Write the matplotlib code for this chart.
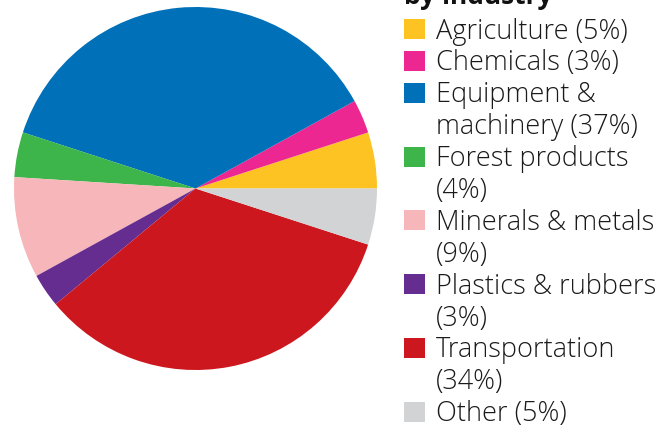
import matplotlib
matplotlib.use("Agg")
import matplotlib.pyplot as plt
from matplotlib.patches import Rectangle

# share of sales by industry (%), counter-clockwise from 3 o'clock
industries = [
    "Agriculture",
    "Chemicals",
    "Equipment &\nmachinery",
    "Forest products\n",
    "Minerals & metals\n",
    "Plastics & rubbers\n",
    "Transportation\n",
    "Other",
]
shares = [5, 3, 37, 4, 9, 3, 34, 5]
colors = ["#FDC323", "#EC2792", "#0070B8", "#3DB54A",
          "#F7B6BA", "#662D91", "#CC171E", "#D1D3D4"]
title = "by industry"

W, H, DPI = 672, 427, 100
fig = plt.figure(figsize=(W / DPI, H / DPI), dpi=DPI)

# pie
cx, cy, r = 195.5, 189.5, 181.5
ax = fig.add_axes([(cx - r) / W, (H - cy - r) / H, 2 * r / W, 2 * r / H])
ax.pie(shares, colors=colors, startangle=0, counterclock=True,
       radius=1.0, wedgeprops=dict(linewidth=0))
ax.set_xlim(-1, 1)
ax.set_ylim(-1, 1)
ax.set_aspect("equal")
ax.axis("off")

# title, cut off at the top like the source
fig.text(404 / W, 1 - 3.5 / H, title, fontsize=19, fontweight="bold",
         family="Open Sans", ha="left", va="baseline", color="#111111")

# legend drawn by hand
row_h = 31.9
y0 = 30.0
row = 0
for name, val, col in zip(industries, shares, colors):
    if name.endswith("\n"):
        label = f"{name}({val}%)"
    else:
        label = f"{name} ({val}%)"
    yc = y0 + row * row_h
    fig.patches.append(Rectangle((404 / W, 1 - (yc + 10) / H), 21 / W, 20 / H,
                                 transform=fig.transFigure, facecolor=col,
                                 edgecolor="none"))
    for i, line in enumerate(label.split("\n")):
        fig.text(436 / W, 1 - (yc + 1.5 + i * row_h) / H, line, fontsize=19.5,
                 family="Open Sans", fontweight="light", ha="left",
                 va="center", color="#1a1a1a")
    row += label.count("\n") + 1

fig.savefig("out.png", dpi=DPI)
